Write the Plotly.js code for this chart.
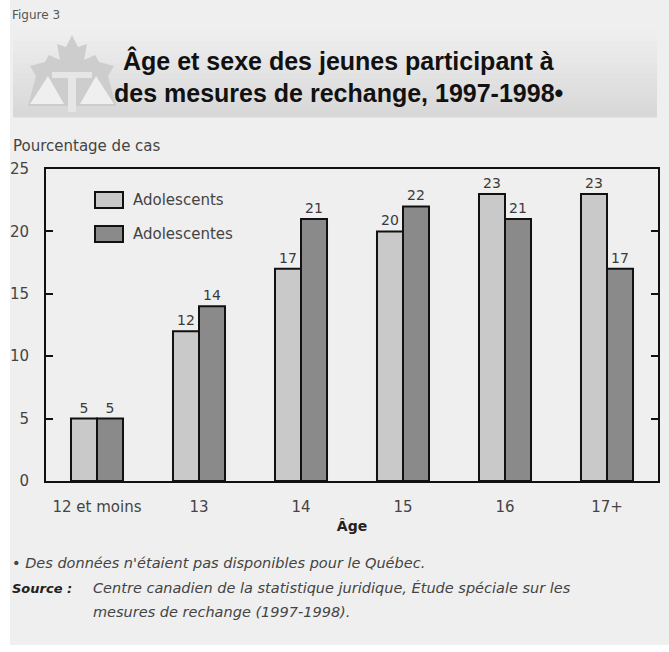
<!DOCTYPE html>
<html>
<head>
<meta charset="utf-8">
<script src="https://cdn.plot.ly/plotly-3.0.1.min.js"></script>
<style>html,body{margin:0;padding:0;background:#fff;}#chart{width:669px;height:652px;}</style>
</head>
<body>
<div id="chart"></div>
<script>
const categories = ["12 et moins", "13", "14", "15", "16", "17+"];
const seriesNames = ["Adolescents", "Adolescentes"];
const boys = [5, 12, 17, 20, 23, 23];
const girls = [5, 14, 21, 22, 21, 17];
const seriesColors = ["#c9c9c9", "#8a8a8a"];
const yTicks = [0, 5, 10, 15, 20, 25];

const L = 46, R = 658, T = 169, B = 481;
const px = x => (x - L) / (R - L);
const py = y => (B - y) / (B - T);
const FONT = "DejaVu Sans, Verdana, sans-serif";
const TFONT = "Liberation Sans, Arial, sans-serif";

function bar(name, vals, color) {
  return {
    type: "bar", name: name, x: categories, y: vals,
    text: vals.map(String), textposition: "outside", cliponaxis: false,
    textfont: {family: FONT, size: 14, color: "#3a3a3a"},
    marker: {color: color, line: {color: "#111", width: 2}},
    showlegend: false, hoverinfo: "skip"
  };
}

const shapes = [];
const annotations = [];
function rectPx(x0, y0, x1, y1, fill, line, lw) {
  shapes.push({type: "rect", xref: "paper", yref: "paper", layer: "below",
    x0: px(x0), x1: px(x1), y0: py(y0), y1: py(y1),
    fillcolor: fill, line: {color: line || "rgba(0,0,0,0)", width: lw || 0}});
}
function pathPx(pts, fill) {
  const d = pts.map((p, i) => (i ? "L" : "M") + px(p[0]) + "," + py(p[1])).join(" ") + " Z";
  shapes.push({type: "path", xref: "paper", yref: "paper", layer: "below", path: d,
    fillcolor: fill, line: {width: 0}});
}
// panel
rectPx(10, 0, 669, 645, "#efefef");
// banner gradient
const bTop = 30, bBot = 117, steps = 16;
for (let i = 0; i < steps; i++) {
  const c = Math.round(238 - (i / (steps - 1)) * 22);
  rectPx(13, bTop + (bBot - bTop) * i / steps, 657, bTop + (bBot - bTop) * (i + 1) / steps + 0.5, `rgb(${c},${c},${c})`);
}
// faint logo
pathPx([[72,35],[66,47],[57,44],[60,60],[49,55],[45,62],[30,66],[36,76],[28,106],[116,106],[108,76],[114,66],[99,62],[95,55],[84,60],[87,44],[78,47]], "#cdcdcd");
pathPx([[30,104],[48,76],[64,104]], "#efefef");
pathPx([[80,104],[96,76],[114,104]], "#efefef");
rectPx(52, 72, 92, 78, "#e6e6e6");
rectPx(68, 78, 76, 112, "#e6e6e6");

// legend (custom, box + text)
const legY = [200, 234];
seriesNames.forEach((n, i) => {
  rectPx(95, legY[i] - 8, 123, legY[i] + 8, seriesColors[i], "#111", 2);
  annotations.push({xref: "paper", yref: "paper", x: px(131), y: py(legY[i]), xanchor: "left", yanchor: "middle",
    text: n, showarrow: false, font: {family: FONT, size: 15, color: "#444"}});
});

function txt(x, y, t, font, opts) {
  annotations.push(Object.assign({xref: "paper", yref: "paper", x: px(x), y: py(y), xanchor: "left", yanchor: "middle",
    text: t, showarrow: false, font: font}, opts || {}));
}
const titleFont = {family: TFONT, size: 25, color: "#111"};
const noteFont = {family: FONT, size: 14.5, color: "#444"};
txt(10, 15, "Figure 3", {family: FONT, size: 12, color: "#555"});
txt(338, 61, "<b>Âge et sexe des jeunes participant à</b>", titleFont, {xanchor: "center"});
txt(338, 93, "<b>des mesures de rechange, 1997-1998•</b>", titleFont, {xanchor: "center"});
txt(11, 146, "Pourcentage de cas", {family: FONT, size: 15, color: "#444"});
txt(10, 563, "<i>• Des données n'étaient pas disponibles pour le Québec.</i>", noteFont);
txt(10, 588, "<b><i>Source :</i></b>", {family: FONT, size: 13, color: "#222"});
txt(91, 588, "<i>Centre canadien de la statistique juridique, Étude spéciale sur les</i>", noteFont);
txt(91, 612, "<i>mesures de rechange (1997-1998).</i>", noteFont);

const layout = {
  width: 669, height: 652,
  margin: {l: L, r: 669 - R, t: T, b: 652 - B, pad: 0},
  paper_bgcolor: "#ffffff", plot_bgcolor: "rgba(0,0,0,0)",
  barmode: "group", bargap: 0.49, bargroupgap: 0,
  font: {family: FONT, size: 15, color: "#444"},
  xaxis: {type: "category", showline: true, linecolor: "#111", linewidth: 2, mirror: true,
    ticks: "", showgrid: false, zeroline: false, ticklabelstandoff: 11,
    tickfont: {family: FONT, size: 15, color: "#444"},
    title: {text: "<b>Âge</b>", standoff: 6, font: {family: FONT, size: 14, color: "#222"}}},
  yaxis: {range: [0, 25], tickvals: yTicks, showline: true, linecolor: "#111", linewidth: 2, mirror: "ticks",
    ticks: "inside", ticklen: 7, tickwidth: 2, tickcolor: "#111", showgrid: false, zeroline: false,
    ticklabelstandoff: 12, tickfont: {family: FONT, size: 15, color: "#444"}},
  shapes: shapes, annotations: annotations, showlegend: false
};
Plotly.newPlot("chart", [bar(seriesNames[0], boys, seriesColors[0]), bar(seriesNames[1], girls, seriesColors[1])], layout, {staticPlot: true});
</script>
</body>
</html>
